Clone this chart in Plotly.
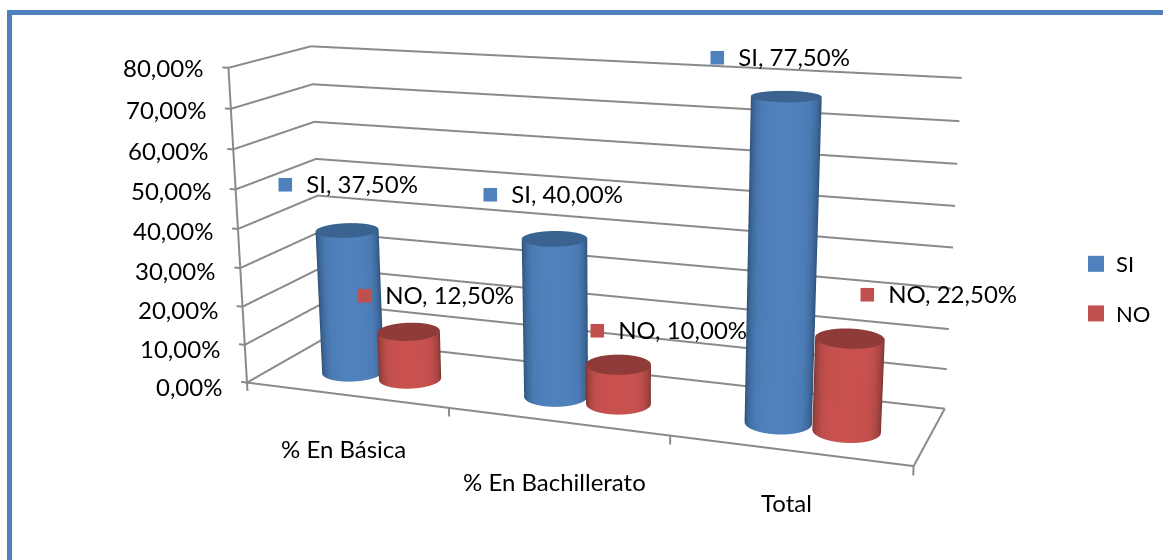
import numpy as np
import plotly.graph_objects as go

CATEGORIES = ["% En Básica", "% En Bachillerato", "Total"]
SI = [0.375, 0.40, 0.775]
NO = [0.125, 0.10, 0.225]
Z_TICKS = [0, .1, .2, .3, .4, .5, .6, .7, .8]

FIG_W, FIG_H, TOP = 1163, 1458, 452
EYE = np.array([1.4325, -3.7690, 1.0008])
CEN = np.array([-0.0015, -0.0281, -0.0883])
UP = np.array([0.0456, -0.1028, 0.9937])
ASP = np.array([1.6541, 0.3934, 0.7837])
RANGE = np.array([3, 1, .8])
PAD = np.array([.1, .1, .1])
FONT = "Lato"
GRAY = "#8A8A8A"
ASP_PADDED = ASP * (RANGE + 2*PAD) / RANGE

def py(Y):  # window row -> paper fraction
    return 1 - (Y + TOP) / FIG_H

fig = go.Figure()

def lines(xs, ys, zs):
    fig.add_trace(go.Scatter3d(x=xs, y=ys, z=zs, mode="lines", line=dict(color=GRAY, width=4),
                               showlegend=False, hoverinfo="skip"))

for z in Z_TICKS:
    lines([-.03, 0, 0, 3], [0, 0, 1, 1], [z, z, z, z])
lines([0, 0], [0, 0], [-.022, .8])
lines([0, 3, 3], [0, 0, 1], [0, 0, 0])
for i in range(1, len(CATEGORIES) + 1):
    lines([i, i], [0, 0], [0, -.022])

RX = 0.14
RY = RX * (ASP[0]/RANGE[0]) / (ASP[1]/RANGE[1])
T = np.linspace(0, 2*np.pi, 97)
BLUE = [[0, "#274568"], [.35, "#38608F"], [.75, "#4C7CB6"], [1, "#4F81BD"]]
RED = [[0, "#6B2C2A"], [.35, "#96403D"], [.75, "#C24F4C"], [1, "#C9524F"]]
NOLIGHT = dict(ambient=1, diffuse=0, specular=0, fresnel=0, roughness=1)
CY = .42
OFF_SI, OFF_NO = -.123, .167

def cylinder(cx, v, scale, capcolor):
    nx, ny = np.cos(T), np.sin(T)
    sc = (np.array([cx, CY])/RANGE[:2] - .5) * ASP[:2]
    d = EYE[:2] - sc; d = d/np.linalg.norm(d)
    s = np.clip(nx*d[0] + ny*d[1], 0, 1)
    xx = cx + RX*nx; yy = CY + RY*ny
    fig.add_trace(go.Surface(x=np.vstack([xx, xx]), y=np.vstack([yy, yy]), z=np.vstack([0*T, 0*T+v]),
        surfacecolor=np.vstack([s, s]), colorscale=scale, cmin=0, cmax=1, showscale=False,
        lighting=NOLIGHT, hoverinfo="skip", showlegend=False))
    rr = np.array([0, 1.0])
    fig.add_trace(go.Surface(x=cx + RX*np.outer(rr, nx), y=CY + RY*np.outer(rr, ny), z=v + 0*np.outer(rr, nx),
        surfacecolor=0*np.outer(rr, nx), colorscale=[[0, capcolor], [1, capcolor]], cmin=0, cmax=1, showscale=False,
        lighting=NOLIGHT, hoverinfo="skip", showlegend=False))

for i in range(len(CATEGORIES)):
    cylinder(i + .5 + OFF_SI, SI[i], BLUE, "#3B6391")
    cylinder(i + .5 + OFF_NO, NO[i], RED, "#8F3B39")

for name, col in (("SI", "#4F81BD"), ("NO", "#C0504D")):
    fig.add_trace(go.Scatter3d(x=[None], y=[None], z=[None], mode="markers", name=name, legendgroup=name,
                               marker=dict(symbol="square", size=16, color=col)))

def pct(v):
    return f"{v*100:.2f}".replace(".", ",") + "%"

ann = []
for z in Z_TICKS:
    ann.append(dict(x=0, y=0, z=z, text=pct(z), showarrow=False, xanchor="right", xshift=-23, yshift=-4 + 5*z,
                    font=dict(family=FONT, size=24, color="black")))
CAT_SHIFT = [-54, -60, -52]
for i, c in enumerate(CATEGORIES):
    ann.append(dict(x=i+.5, y=0, z=0, text=c, showarrow=False, xshift=-2, yshift=CAT_SHIFT[i],
                    font=dict(family=FONT, size=24, color="black")))
SI_SHIFT = [(0, 48), (-2, 47), (-7, 41)]
NO_SHIFT = [(26, 39), (50, 37), (88, 46)]
SQ = '<span style="color:{};font-size:28px">■</span>  {}, {}'
for i in range(3):
    ann.append(dict(x=i+.5+OFF_SI, y=CY, z=SI[i], text=SQ.format("#4F81BD", "SI", pct(SI[i])),
                    showarrow=False, xshift=SI_SHIFT[i][0], yshift=SI_SHIFT[i][1], font=dict(family=FONT, size=24, color="black")))
    ann.append(dict(x=i+.5+OFF_NO, y=CY, z=NO[i], text=SQ.format("#C0504D", "NO", pct(NO[i])),
                    showarrow=False, xshift=NO_SHIFT[i][0], yshift=NO_SHIFT[i][1], font=dict(family=FONT, size=24, color="black")))

BAR = "#4F81BD"
hidden = dict(showgrid=False, showticklabels=False, title="", showbackground=False, zeroline=False, showspikes=False, ticks="", showline=False)
fig.update_layout(width=FIG_W, height=FIG_H, margin=dict(l=0, r=0, t=0, b=0), paper_bgcolor="white",
    font=dict(family=FONT, size=22, color="black"),
    legend=dict(x=1076/FIG_W, y=py(243), xanchor="left", yanchor="top", tracegroupgap=18, font=dict(size=22), bgcolor="rgba(0,0,0,0)"),
    shapes=[dict(type="path", xref="paper", yref="paper", line=dict(color=BAR, width=5),
                 path=f"M {9.5/FIG_W} {py(600)} L {9.5/FIG_W} {py(12.5)} L 1 {py(12.5)}")],
    scene=dict(camera=dict(eye=dict(x=EYE[0], y=EYE[1], z=EYE[2]), center=dict(x=CEN[0], y=CEN[1], z=CEN[2]), up=dict(x=UP[0], y=UP[1], z=UP[2])),
        aspectmode="manual", aspectratio=dict(x=ASP_PADDED[0], y=ASP_PADDED[1], z=ASP_PADDED[2]), domain=dict(x=[0, 1], y=[0, 1]),
        xaxis=dict(range=[-PAD[0], RANGE[0]+PAD[0]], **hidden),
        yaxis=dict(range=[-PAD[1], RANGE[1]+PAD[1]], **hidden),
        zaxis=dict(range=[-PAD[2], RANGE[2]+PAD[2]], **hidden), annotations=ann))
fig.write_html("out.html", config=dict(displayModeBar=False),
    post_script=f"document.body.style.margin='0';document.body.style.overflow='hidden';var g=document.querySelector('.plotly-graph-div');g.style.position='absolute';g.style.left='0';g.style.top='-{TOP}px';")
